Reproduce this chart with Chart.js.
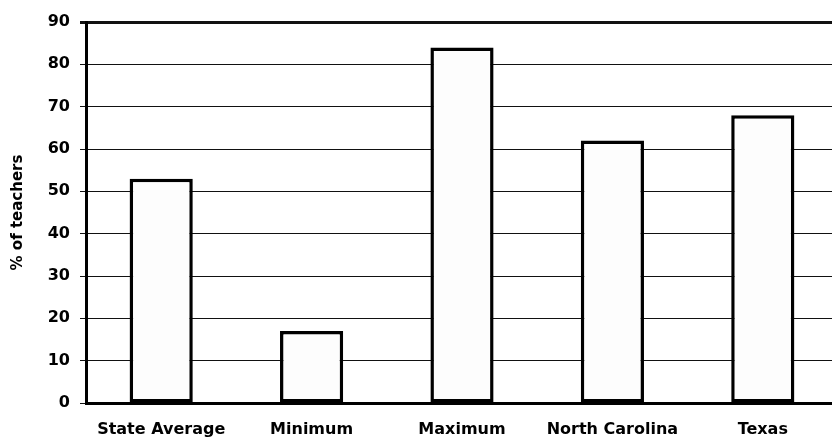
<!DOCTYPE html>
<html>
<head>
<meta charset="utf-8">
<script src="https://cdn.jsdelivr.net/npm/chart.js@4/dist/chart.umd.min.js"></script>
<style>
  html, body { margin: 0; padding: 0; background: #fff; overflow: hidden; }
  #wrap { width: 840px; height: 441px; position: relative; }
</style>
</head>
<body>
<div id="wrap"><canvas id="chart"></canvas></div>
<script>
// Share of teachers, by comparison group
const categories = ['State Average', 'Minimum', 'Maximum', 'North Carolina', 'Texas'];
const teacherShare = [53, 17, 84, 62, 68];
const yTicks = [0, 10, 20, 30, 40, 50, 60, 70, 80, 90];
const yTitle = '% of teachers';

const FONT = 'DejaVu Sans';

new Chart(document.getElementById('chart'), {
  type: 'bar',
  data: {
    labels: categories,
    datasets: [{
      data: teacherShare,
      backgroundColor: '#fdfdfd',
      borderColor: '#000',
      borderWidth: 3.5,
      borderSkipped: false,
      categoryPercentage: 1,
      barPercentage: 0.42
    }]
  },
  options: {
    responsive: true,
    maintainAspectRatio: false,
    animation: false,
    devicePixelRatio: 1,
    layout: { padding: { top: 22, right: 2, bottom: 0, left: 0 } },
    plugins: { legend: { display: false }, tooltip: { enabled: false } },
    scales: {
      x: {
        grid: { display: false, drawTicks: false },
        border: { display: true, color: '#000', width: 3 },
        ticks: {
          color: '#000',
          padding: 17,
          maxRotation: 0,
          autoSkip: false,
          font: { family: FONT, size: 16, weight: 'bold' }
        },
        afterFit(scale) { scale.height = 38; }
      },
      y: {
        min: 0,
        max: 90,
        afterBuildTicks(scale) { scale.ticks = yTicks.map(v => ({ value: v })); },
        grid: {
          color: '#111',
          lineWidth: ctx => (ctx.tick && ctx.tick.value === 90 ? 3 : 1),
          tickLength: 6,
          drawTicks: true
        },
        border: { display: true, color: '#000', width: 3 },
        ticks: {
          color: '#000',
          padding: 10,
          font: { family: FONT, size: 16, weight: 'bold' }
        },
        title: {
          display: true,
          text: yTitle,
          color: '#000',
          padding: { top: 9.5, bottom: 0 },
          font: { family: FONT, size: 15, weight: 'bold' }
        },
        afterFit(scale) { scale.width = 86; }
      }
    }
  }
});
</script>
</body>
</html>
